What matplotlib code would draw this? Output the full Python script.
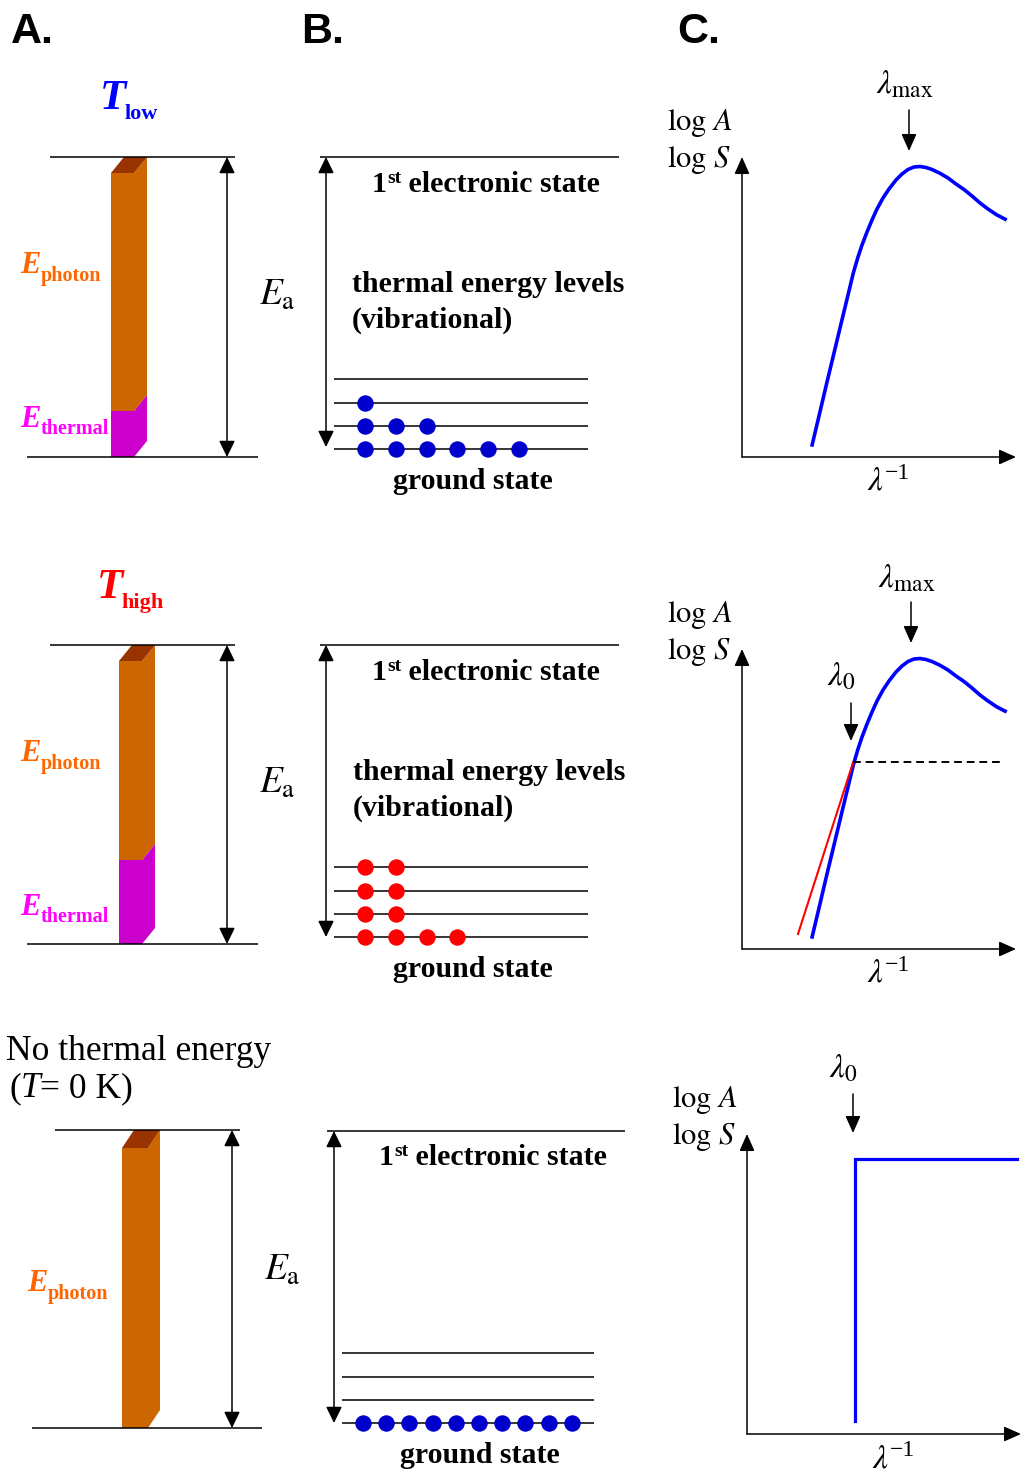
import matplotlib
matplotlib.use("Agg")
import matplotlib.pyplot as plt
from matplotlib.patches import Polygon

plt.rcParams["mathtext.fontset"] = "stix"
plt.rcParams["font.family"] = ["Liberation Serif", "DejaVu Serif"]

# ---------------- data ----------------
panel_letters = ["A.", "B.", "C."]
temp_subs = ["low", "high"]
temp_colors = ["#0000FF", "#FF0000"]
zero_label = ["No thermal energy", "(T= 0 K)"]
# population of vibrational levels (ground, 1st, 2nd, 3rd)
level_pops_low = [6, 3, 1, 0]
level_pops_high = [4, 2, 2, 2]
level_pops_zero = [10, 0, 0, 0]
dot_colors = ["#0000CC", "#FF0000", "#0000CC"]
# share of activation energy supplied thermally
thermal_share = [0.153, 0.28, 0.0]
# schematic spectrum (lambda^-1 vs log A), px right of / above axis origin
spectrum_x = [69.7, 77, 84.7, 92, 99.7, 106, 111.3, 116, 120, 125, 130, 135, 141, 147,
              154, 160, 166, 172, 178, 184, 190, 198, 206, 214, 222, 230, 238, 246, 255, 264.7]
spectrum_y = [10.3, 41, 73.7, 104, 136, 162, 184, 200, 212, 225, 237, 248, 259, 268,
              277, 283, 287.5, 290, 290.5, 289.5, 287.5, 283.7, 279, 273, 267.5, 261, 254,
              248, 242, 237]
tangent_x = [55.7, 111.3]
tangent_y = [14.0, 187.3]
onset_x = [111.3, 261.0]
onset_y = [187.3, 187.3]
step_x = [108.0, 108.0, 270.0]
step_y = [13.0, 275.0, 275.0]

# ---------------- figure ----------------
W, H = 1021, 1475
fig = plt.figure(figsize=(W / 100, H / 100), dpi=100)
ax = fig.add_axes([0, 0, 1, 1])
ax.set_xlim(0, W)
ax.set_ylim(H, 0)
ax.axis("off")
renderer = fig.canvas.get_renderer()

SERIF = "Liberation Serif"
LW = 1.1
BSZ = 21.5  # bold labels in column B


def rich(x, y, parts, color="black", family=SERIF):
    for p in parts:
        s, size, weight, style, dy = p[:5]
        ddx = p[5] if len(p) > 5 else 0
        x += ddx
        t = ax.text(x, y + dy, s, fontsize=size, fontweight=weight, fontstyle=style,
                    color=color, va="baseline", ha="left", family=family)
        bb = t.get_window_extent(renderer)
        x += bb.width
    return x


def darrow(x, y0, y1):
    ax.annotate("", xy=(x, y1), xytext=(x, y0), annotation_clip=False,
                arrowprops=dict(arrowstyle="<|-|>,head_length=0.45,head_width=0.22",
                                lw=LW, color="black", shrinkA=0, shrinkB=0,
                                mutation_scale=22))


def sarrow(x0, y0, x1, y1, ms=23):
    ax.annotate("", xy=(x1, y1), xytext=(x0, y0), annotation_clip=False,
                arrowprops=dict(arrowstyle="-|>,head_length=0.45,head_width=0.2",
                                lw=LW, color="black", shrinkA=0, shrinkB=0,
                                mutation_scale=ms))


def hline(y, x0, x1, **kw):
    ax.plot([x0, x1], [y, y], color="black", lw=LW, solid_capstyle="butt", **kw)


def inv_lambda(x, y):
    t = ax.text(x, y, r"$\lambda$", fontsize=24, va="baseline", ha="left")
    bb = t.get_window_extent(renderer)
    ax.text(x + bb.width + 1, y - 11, "\u22121", fontsize=17, va="baseline", ha="left",
            family=SERIF)


# panel letters
for lab, x in zip(panel_letters, [11, 301, 677]):
    ax.text(x, 43, lab, fontsize=31, fontweight="bold", family="Liberation Sans",
            va="baseline", ha="left")

rows = [
    dict(top=157, bot=457, a_top=(50, 235), a_bot=(27, 258), a_arr=227, bar_x=111, bar_w=23,
         bar_dx=13, bar_dy=16, b_top=(320, 619), b_arr=326, b_gnd=449, b_x=(334, 588),
         b_dot0=365, b_ddx=30.8, c_org=(742, 457), pops=level_pops_low),
    dict(top=645, bot=944, a_top=(50, 235), a_bot=(27, 258), a_arr=227, bar_x=119, bar_w=23,
         bar_dx=13, bar_dy=16, b_top=(320, 619), b_arr=326, b_gnd=937, b_x=(334, 588),
         b_dot0=365, b_ddx=30.8, c_org=(742, 949), pops=level_pops_high),
    dict(top=1130, bot=1428, a_top=(55, 240), a_bot=(32, 262), a_arr=232, bar_x=122, bar_w=26,
         bar_dx=12, bar_dy=18, b_top=(327, 625), b_arr=334, b_gnd=1423, b_x=(342, 594),
         b_dot0=363, b_ddx=23.2, c_org=(747, 1434), pops=level_pops_zero),
]

ORANGE = "#CC6600"
TOPC = "#993300"
MAG = "#CC00CC"

for i, r in enumerate(rows):
    top, bot = r["top"], r["bot"]
    # ---------- column A ----------
    hline(top, *r["a_top"])
    hline(bot, *r["a_bot"])
    darrow(r["a_arr"], bot, top)
    x0, w, dx, dy = r["bar_x"], r["bar_w"], r["bar_dx"], r["bar_dy"]
    ft = top + dy  # front face top
    thermal_h = thermal_share[i] * (bot - top)
    yt = bot - thermal_h
    ax.add_patch(Polygon([(x0, ft), (x0 + w, ft), (x0 + w, yt), (x0, yt)],
                         closed=True, fc=ORANGE, ec="none"))
    ax.add_patch(Polygon([(x0 + w, ft), (x0 + w + dx, top), (x0 + w + dx, yt - dy), (x0 + w, yt)],
                         closed=True, fc=ORANGE, ec="none"))
    ax.add_patch(Polygon([(x0, ft), (x0 + dx, top), (x0 + w + dx, top), (x0 + w, ft)],
                         closed=True, fc=TOPC, ec="none"))
    if thermal_h > 0:
        ax.add_patch(Polygon([(x0, yt), (x0 + w, yt), (x0 + w, bot), (x0, bot)],
                             closed=True, fc=MAG, ec="none"))
        ax.add_patch(Polygon([(x0 + w, yt), (x0 + w + dx, yt - dy), (x0 + w + dx, bot - dy), (x0 + w, bot)],
                             closed=True, fc=MAG, ec="none"))
    ea_x = 259 if i < 2 else 264
    ea_y = top + 148 if i < 2 else top + 150
    ax.text(ea_x, ea_y, r"$E_{\mathrm{a}}$", fontsize=27, va="baseline", ha="left")

    # ---------- column B ----------
    hline(top if i < 2 else top + 1, *r["b_top"])
    gnd = r["b_gnd"]
    darrow(r["b_arr"], gnd - 2 if i == 0 else gnd, top if i < 2 else top + 1)
    for k in range(4):
        yl = gnd - k * 23.2
        hline(yl, *r["b_x"])
        n = r["pops"][k]
        if n:
            xs = [r["b_dot0"] + j * r["b_ddx"] for j in range(n)]
            ax.scatter(xs, [yl] * n, s=140, color=dot_colors[i], zorder=3, linewidths=0)
    bx = 372 if i < 2 else 379
    rich(bx, top + 35, [("1", BSZ, "bold", "normal", 0), ("st", 14, "bold", "normal", -9),
                        (" electronic state", BSZ, "bold", "normal", 0)])
    if i < 2:
        ax.text(352 if i == 0 else 353, top + 135, "thermal energy levels", fontsize=BSZ,
                fontweight="bold", va="baseline", ha="left")
        ax.text(352 if i == 0 else 353, top + 171, "(vibrational)", fontsize=BSZ,
                fontweight="bold", va="baseline", ha="left")
    ax.text(473 if i < 2 else 480, gnd + 40, "ground state", fontsize=BSZ, fontweight="bold",
            va="baseline", ha="center")

    # ---------- column C ----------
    ox, oy = r["c_org"]
    sarrow(ox, oy, ox, oy - 300)
    sarrow(ox, oy, ox + 274, oy)
    ax.text(ox - 75, oy - 327, r"$\mathrm{log}\ A$", fontsize=22, va="baseline", ha="left")
    ax.text(ox - 75, oy - 290, r"$\mathrm{log}\ S$", fontsize=22, va="baseline", ha="left")
    inv_lambda(ox + 125, oy + 33)
    if i < 2:
        ax.plot([ox + v for v in spectrum_x], [oy - v for v in spectrum_y],
                color="#0000FF", lw=2.6, solid_capstyle="butt", solid_joinstyle="round")
        lx = ox + 167 if i == 0 else ox + 169
        ax.text(lx - 33, oy - 364 if i == 0 else oy - 361, r"$\lambda_{\mathrm{max}}$",
                fontsize=24, va="baseline", ha="left")
        sarrow(lx, oy - 347, lx, oy - 306)
    if i == 1:
        ax.plot([ox + v for v in tangent_x], [oy - v for v in tangent_y],
                color="#FF0000", lw=1.5, solid_capstyle="butt")
        ax.plot([ox + v for v in onset_x], [oy - v for v in onset_y],
                color="black", lw=1.4, ls=(0, (4, 2.5)))
        ax.text(ox + 85, oy - 264, r"$\lambda_{0}$", fontsize=24, va="baseline", ha="left")
        sarrow(ox + 109, oy - 246, ox + 109, oy - 208)
    if i == 2:
        ax.plot([ox + v for v in step_x], [oy - v for v in step_y],
                color="#0000FF", lw=2.3, solid_joinstyle="miter")
        ax.text(ox + 82, oy - 356, r"$\lambda_{0}$", fontsize=24, va="baseline", ha="left")
        sarrow(ox + 106, oy - 340, ox + 106, oy - 301)

# temperature labels
rich(100, 109, [("T", 31, "bold", "italic", 0), ("low", 16, "bold", "normal", 10, -2)],
     color=temp_colors[0])
rich(97, 598, [("T", 31, "bold", "italic", 0), ("high", 16, "bold", "normal", 10, -2)],
     color=temp_colors[1])

# E_photon / E_thermal labels
PH = "#FF6600"
TH = "#FF00FF"
for (x, y) in [(20, 273), (20, 761), (27, 1291)]:
    rich(x, y, [("E", 22, "bold", "italic", 0), ("photon", 14.5, "bold", "normal", 8)], color=PH)
for (x, y) in [(20, 427), (20, 915)]:
    rich(x, y, [("E", 22, "bold", "italic", 0), ("thermal", 14.5, "bold", "normal", 7)], color=TH)

# no thermal energy
ax.text(6, 1060, zero_label[0], fontsize=25.5, va="baseline", ha="left")
rich(9, 1097, [("(", 25.5, "normal", "normal", 0), ("T", 25.5, "normal", "italic", 0),
               ("= 0 K)", 25.5, "normal", "normal", 0)])

fig.savefig("out.png", dpi=100)
